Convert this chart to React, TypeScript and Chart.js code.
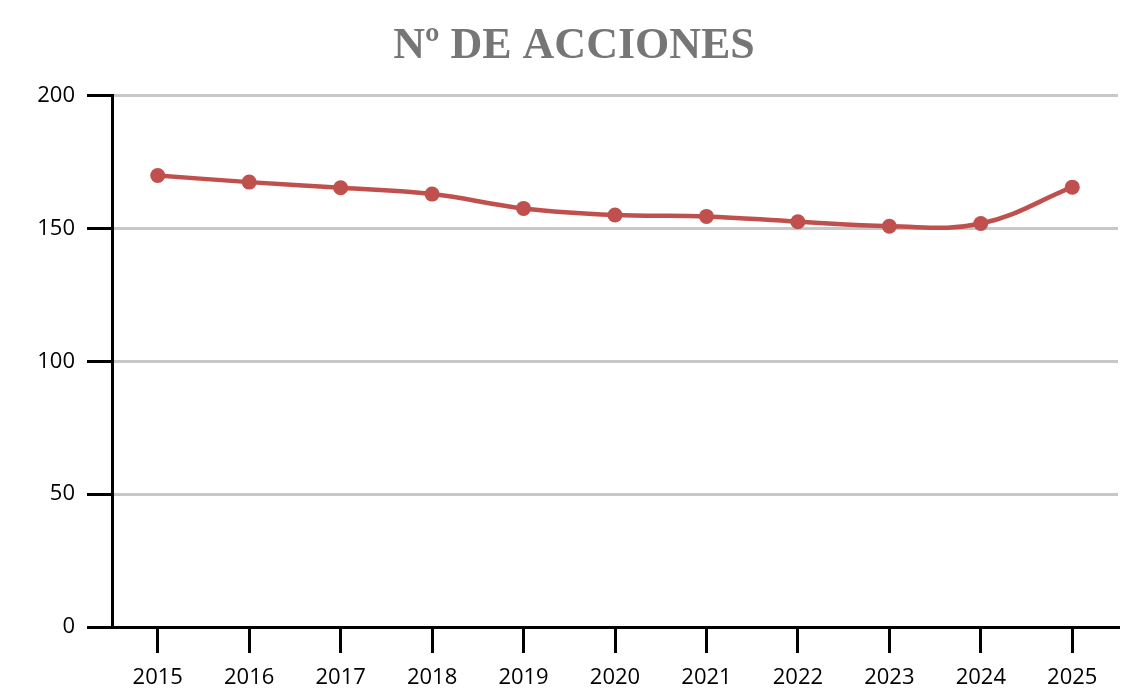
import React, { useEffect, useRef } from "react";
import { Chart, registerables } from "chart.js";

Chart.register(...registerables);

const titleText = "Nº DE ACCIONES";
const categories = ["2015", "2016", "2017", "2018", "2019", "2020", "2021", "2022", "2023", "2024", "2025"];
const acciones = [170, 167.5, 165.4, 163, 157.6, 155.1, 154.6, 152.6, 150.9, 151.9, 165.6];
const yMin = 0;
const yMax = 200;
const yStep = 50;

export default function App() {
  const ref = useRef<HTMLCanvasElement | null>(null);

  useEffect(() => {
    if (!ref.current) return;
    const chart = new Chart(ref.current, {
      type: "line",
      data: {
        labels: categories,
        datasets: [
          {
            label: titleText,
            data: acciones,
            borderColor: "#c0504d",
            backgroundColor: "#c0504d",
            borderWidth: 4.5,
            pointRadius: 7.5,
            pointBackgroundColor: "#c0504d",
            pointBorderWidth: 0,
            tension: 0.4,
            fill: false,
          },
        ],
      },
      options: {
        animation: false,
        responsive: false,
        maintainAspectRatio: false,
        layout: { padding: { left: 30, right: 25, top: 0, bottom: 0 } },
        plugins: {
          legend: { display: false },
          tooltip: { enabled: false },
          title: {
            display: true,
            text: titleText,
            color: "#767676",
            font: { family: "'Liberation Serif', serif", size: 44, weight: "bold", lineHeight: 1.2 },
            padding: { top: 20, bottom: 23 },
          },
        },
        scales: {
          x: {
            offset: true,
            grid: {
              offset: false,
              drawOnChartArea: false,
              drawTicks: true,
              tickLength: 26,
              tickColor: "#000000",
              lineWidth: 3,
            },
            border: { display: true, color: "#000000", width: 3 },
            ticks: {
              color: "#000000",
              padding: 12,
              font: { family: "'Open Sans', sans-serif", size: 22 },
              maxRotation: 0,
            },
            afterFit: (scale: any) => {
              scale.height = 67;
            },
          },
          y: {
            min: yMin,
            max: yMax,
            grid: {
              color: "#c8c8c8",
              lineWidth: 3,
              drawTicks: true,
              tickLength: 25,
              tickColor: "#000000",
            },
            border: { display: true, color: "#000000", width: 3 },
            ticks: {
              stepSize: yStep,
              color: "#000000",
              padding: 12,
              font: { family: "'Open Sans', sans-serif", size: 22 },
            },
            afterFit: (scale: any) => {
              scale.width = 82;
            },
          },
        },
      },
    });
    return () => chart.destroy();
  }, []);

  return (
    <div style={{ position: "fixed", left: 0, top: 0, width: 1143, height: 694, background: "#ffffff" }}>
      <canvas ref={ref} width={1143} height={694} style={{ width: 1143, height: 694 }} />
    </div>
  );
}
